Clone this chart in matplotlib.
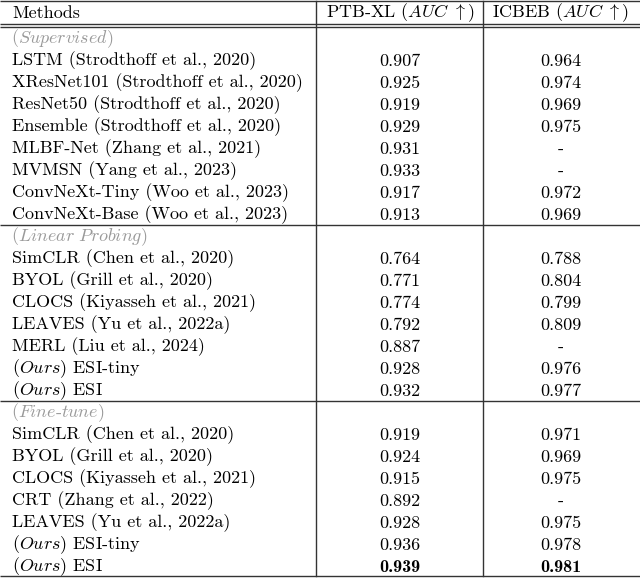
import matplotlib
matplotlib.use("Agg")
import matplotlib.pyplot as plt

plt.rcParams['font.family'] = ['cmr10', 'DejaVu Serif']
plt.rcParams['mathtext.fontset'] = 'cm'

# table content
sections = ['(Supervised)', '(Linear Probing)', '(Fine-tune)']
methods = [
    ['LSTM (Strodthoff et al., 2020)', 'XResNet101 (Strodthoff et al., 2020)',
     'ResNet50 (Strodthoff et al., 2020)', 'Ensemble (Strodthoff et al., 2020)',
     'MLBF-Net (Zhang et al., 2021)', 'MVMSN (Yang et al., 2023)',
     'ConvNeXt-Tiny (Woo et al., 2023)', 'ConvNeXt-Base (Woo et al., 2023)'],
    ['SimCLR (Chen et al., 2020)', 'BYOL (Grill et al., 2020)',
     'CLOCS (Kiyasseh et al., 2021)', 'LEAVES (Yu et al., 2022a)',
     'MERL (Liu et al., 2024)', '(Ours) ESI-tiny', '(Ours) ESI'],
    ['SimCLR (Chen et al., 2020)', 'BYOL (Grill et al., 2020)',
     'CLOCS (Kiyasseh et al., 2021)', 'CRT (Zhang et al., 2022)',
     'LEAVES (Yu et al., 2022a)', '(Ours) ESI-tiny', '(Ours) ESI'],
]
ptbxl = [
    ['0.907', '0.925', '0.919', '0.929', '0.931', '0.933', '0.917', '0.913'],
    ['0.764', '0.771', '0.774', '0.792', '0.887', '0.928', '0.932'],
    ['0.919', '0.924', '0.915', '0.892', '0.928', '0.936', '0.939'],
]
icbeb = [
    ['0.964', '0.974', '0.969', '0.975', '-', '-', '0.972', '0.969'],
    ['0.788', '0.804', '0.799', '0.809', '-', '0.976', '0.977'],
    ['0.971', '0.969', '0.975', '-', '0.975', '0.978', '0.981'],
]
headers = ['Methods', r'PTB-XL ($AUC\ \uparrow$)', r'ICBEB ($AUC\ \uparrow$)']
best = (2, 6)

fig = plt.figure(figsize=(6.4, 5.78), dpi=100)
ax = fig.add_axes([0, 0, 1, 1])
ax.set_xlim(0, 640)
ax.set_ylim(578, 0)
ax.axis('off')

fs = 13
lc = '#333333'
x_m, x_c1, x_c2 = 12, 400, 561
v1, v2 = 316, 483

def fmt_method(s):
    if s.startswith('(Ours)'):
        return r'($\mathit{Ours}$)' + s[6:]
    return s

def italic(s):
    parts = s.split('-')
    out = []
    for p in parts:
        out.append('$\\mathit{' + p.replace(' ', '\\ ') + '}$')
    return '-'.join(out)

# header
ax.text(x_m, 13, headers[0], fontsize=fs, va='center', ha='left')
ax.text(x_c1, 13, headers[1], fontsize=fs, va='center', ha='center')
ax.text(x_c2, 13, headers[2], fontsize=fs, va='center', ha='center')

hlines = [1, 24, 27]
y = 27
for k, sec in enumerate(sections):
    y0 = y + 12
    ax.text(x_m - 1, y0, italic(sec),
            fontsize=fs, va='center', ha='left', color='#9a9a9a')
    for i, m in enumerate(methods[k]):
        yy = y0 + 22 * (i + 1)
        ax.text(x_m, yy, fmt_method(m), fontsize=fs, va='center', ha='left')
        a, b = ptbxl[k][i], icbeb[k][i]
        fam = 'cmb10' if (k, i) == best else 'cmr10'
        ax.text(x_c1, yy, a, fontsize=fs, va='center', ha='center', family=fam)
        ax.text(x_c2, yy, b, fontsize=fs, va='center', ha='center', family=fam)
    y = y0 + 22 * len(methods[k]) + 10
    hlines.append(y)
hlines[-1] = 576

for h in hlines:
    ax.plot([0, 640], [h, h], color=lc, lw=1.0, solid_capstyle='butt')
for v in (v1, v2):
    ax.plot([v, v], [1, 576], color=lc, lw=1.0)

fig.savefig('out.png', dpi=100)
